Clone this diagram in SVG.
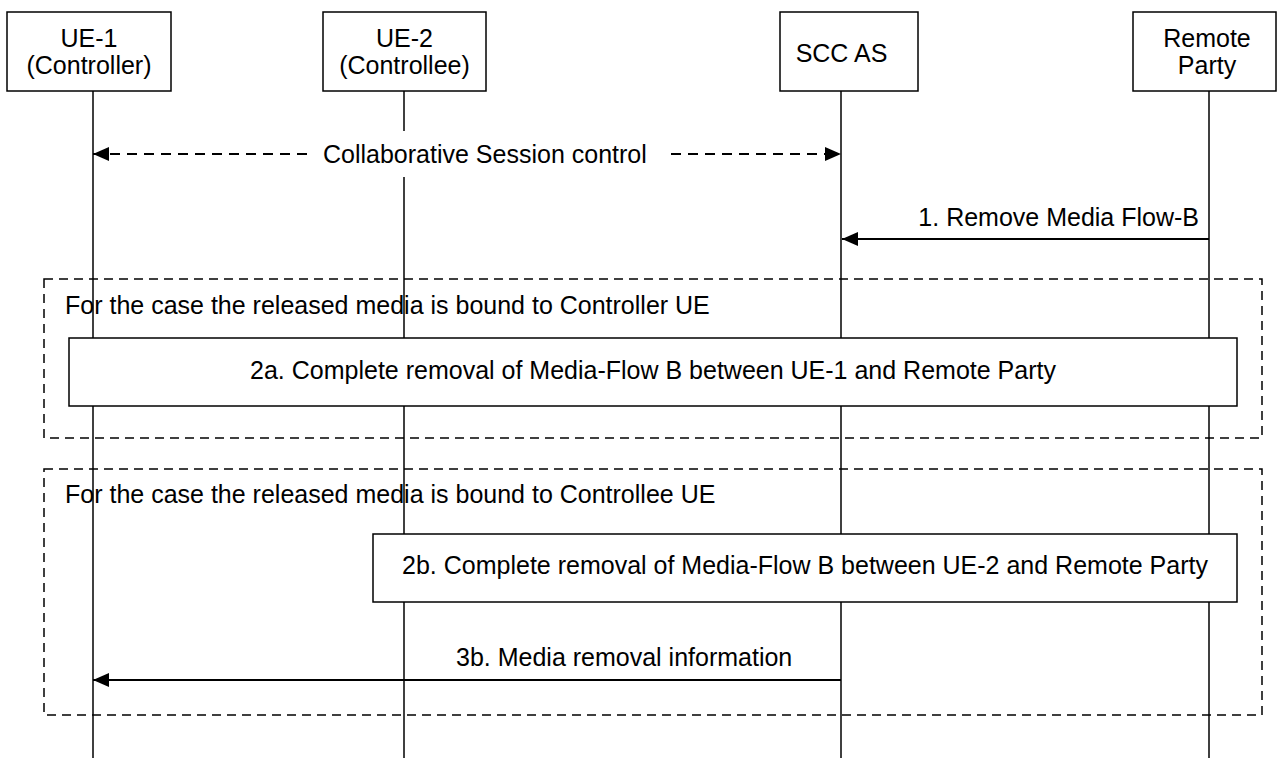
<svg xmlns="http://www.w3.org/2000/svg" width="1278" height="758" viewBox="0 0 1278 758">
<style>
text{font-family:"Liberation Sans",Arial,sans-serif;font-size:25px;fill:#000}
.c{text-anchor:middle}
.box{fill:#fff;stroke:#000;stroke-width:1.5}
.life{stroke:#000;stroke-width:1.5;fill:none}
.frame{fill:none;stroke:#000;stroke-width:1.5;stroke-dasharray:9,6}
.msg{stroke:#000;stroke-width:2;fill:none}
.dmsg{stroke:#000;stroke-width:1.8;fill:none;stroke-dasharray:10,7}
</style>
<defs>
<marker id="ah" markerUnits="userSpaceOnUse" markerWidth="16" markerHeight="14" refX="16" refY="7" orient="auto-start-reverse">
<path d="M0,0 L16,7 L0,14 z" fill="#000"/>
</marker>
</defs>
<rect width="1278" height="758" fill="#fff"/>
<g id="lifelines">
<line class="life" x1="93" y1="91" x2="93" y2="758"/>
<line class="life" x1="404" y1="91" x2="404" y2="758"/>
<line class="life" x1="841" y1="91" x2="841" y2="758"/>
<line class="life" x1="1209" y1="91" x2="1209" y2="758"/>
</g>
<g id="ue1">
<rect class="box" x="7" y="12" width="164" height="79"/>
<text class="c" x="89" y="47">UE-1</text>
<text class="c" x="89" y="74">(Controller)</text>
</g>
<g id="ue2">
<rect class="box" x="323" y="12" width="163" height="79"/>
<text class="c" x="404.5" y="47">UE-2</text>
<text class="c" x="404.5" y="74">(Controllee)</text>
</g>
<g id="sccas">
<rect class="box" x="780" y="12" width="138" height="79"/>
<text class="c" x="841.5" y="62">SCC AS</text>
</g>
<g id="remote">
<rect class="box" x="1133" y="12" width="143" height="79"/>
<text class="c" x="1207" y="47">Remote</text>
<text class="c" x="1207" y="74">Party</text>
</g>
<g id="frame-a">
<rect class="frame" x="44" y="279" width="1218" height="159"/>
<text x="65" y="314">For the case the released media is bound to Controller UE</text>
</g>
<g id="frame-b">
<rect class="frame" x="44" y="469" width="1218" height="246"/>
<text x="65" y="503">For the case the released media is bound to Controllee UE</text>
</g>
<g id="step2a">
<rect class="box" x="69" y="338" width="1168" height="68"/>
<text class="c" x="653" y="379">2a. Complete removal of Media-Flow B between UE-1 and Remote Party</text>
</g>
<g id="step2b">
<rect class="box" x="373" y="534" width="864" height="68"/>
<text class="c" x="805" y="574">2b. Complete removal of Media-Flow B between UE-2 and Remote Party</text>
</g>
<g id="connectors">
<line class="dmsg" x1="93" y1="154" x2="841" y2="154" marker-start="url(#ah)" marker-end="url(#ah)"/>
<rect x="312" y="131" width="352" height="46" fill="#fff"/>
<text x="323" y="163">Collaborative Session control</text>
<line class="msg" x1="1209" y1="239" x2="842" y2="239" marker-end="url(#ah)"/>
<text x="1199" y="226" text-anchor="end">1. Remove Media Flow-B</text>
<line class="msg" x1="841" y1="680" x2="93" y2="680" marker-end="url(#ah)"/>
<text x="456" y="666">3b. Media removal information</text>
</g>
</svg>
